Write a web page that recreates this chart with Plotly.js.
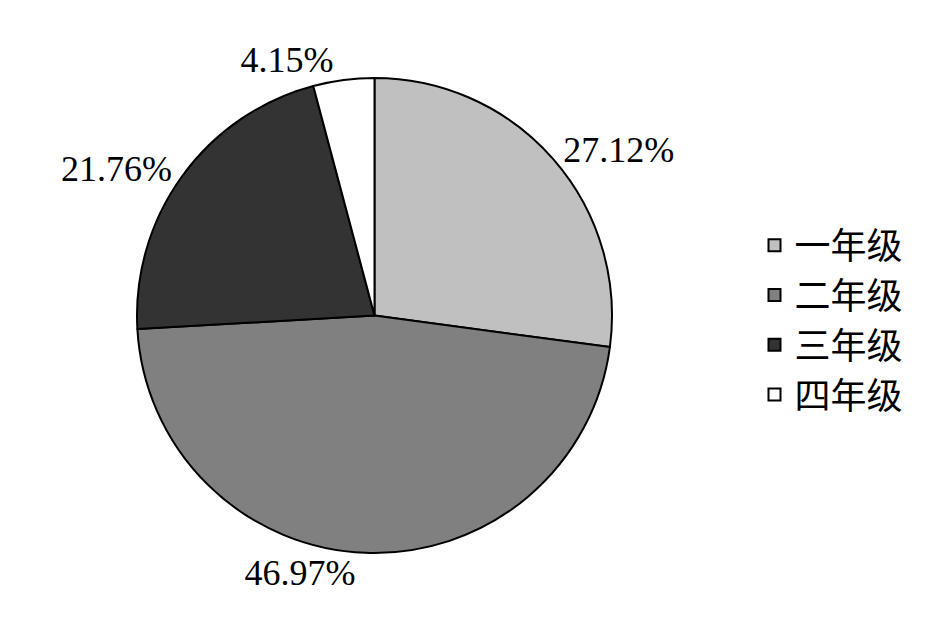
<!DOCTYPE html>
<html>
<head>
<meta charset="utf-8">
<script src="https://cdn.plot.ly/plotly-3.0.1.min.js"></script>
<style>html,body{margin:0;padding:0;background:#fff;}#chart{width:944px;height:634px;}</style>
</head>
<body>
<div id="chart"></div>
<script>
const categories = ["一年级", "二年级", "三年级", "四年级"];
const values = [27.12, 46.97, 21.76, 4.15];
const colors = ["#c0c0c0", "#808080", "#333333", "#ffffff"];

const labelFont = { family: "Liberation Serif", size: 36, color: "#000000" };

const trace = {
  type: "pie",
  labels: categories,
  values: values,
  sort: false,
  direction: "clockwise",
  rotation: 0,
  marker: { colors: colors, line: { color: "#000000", width: 2 } },
  texttemplate: "%{value:.2f}%",
  textposition: "outside",
  textfont: labelFont,
  outsidetextfont: labelFont,
  hoverinfo: "none",
  showlegend: true
};

const layout = {
  width: 944,
  height: 634,
  margin: { l: 137, r: 332, t: 78, b: 81 },
  paper_bgcolor: "#ffffff",
  plot_bgcolor: "#ffffff",
  font: { family: "Liberation Serif", color: "#000000" },
  showlegend: true,
  legend: {
    x: 1.30,
    y: 0.49,
    xanchor: "left",
    yanchor: "middle",
    font: { family: "Noto Sans CJK SC", size: 36, color: "#000000" },
    itemwidth: 30
  }
};

Plotly.newPlot("chart", [trace], layout, { displayModeBar: false, staticPlot: true });
</script>
</body>
</html>
